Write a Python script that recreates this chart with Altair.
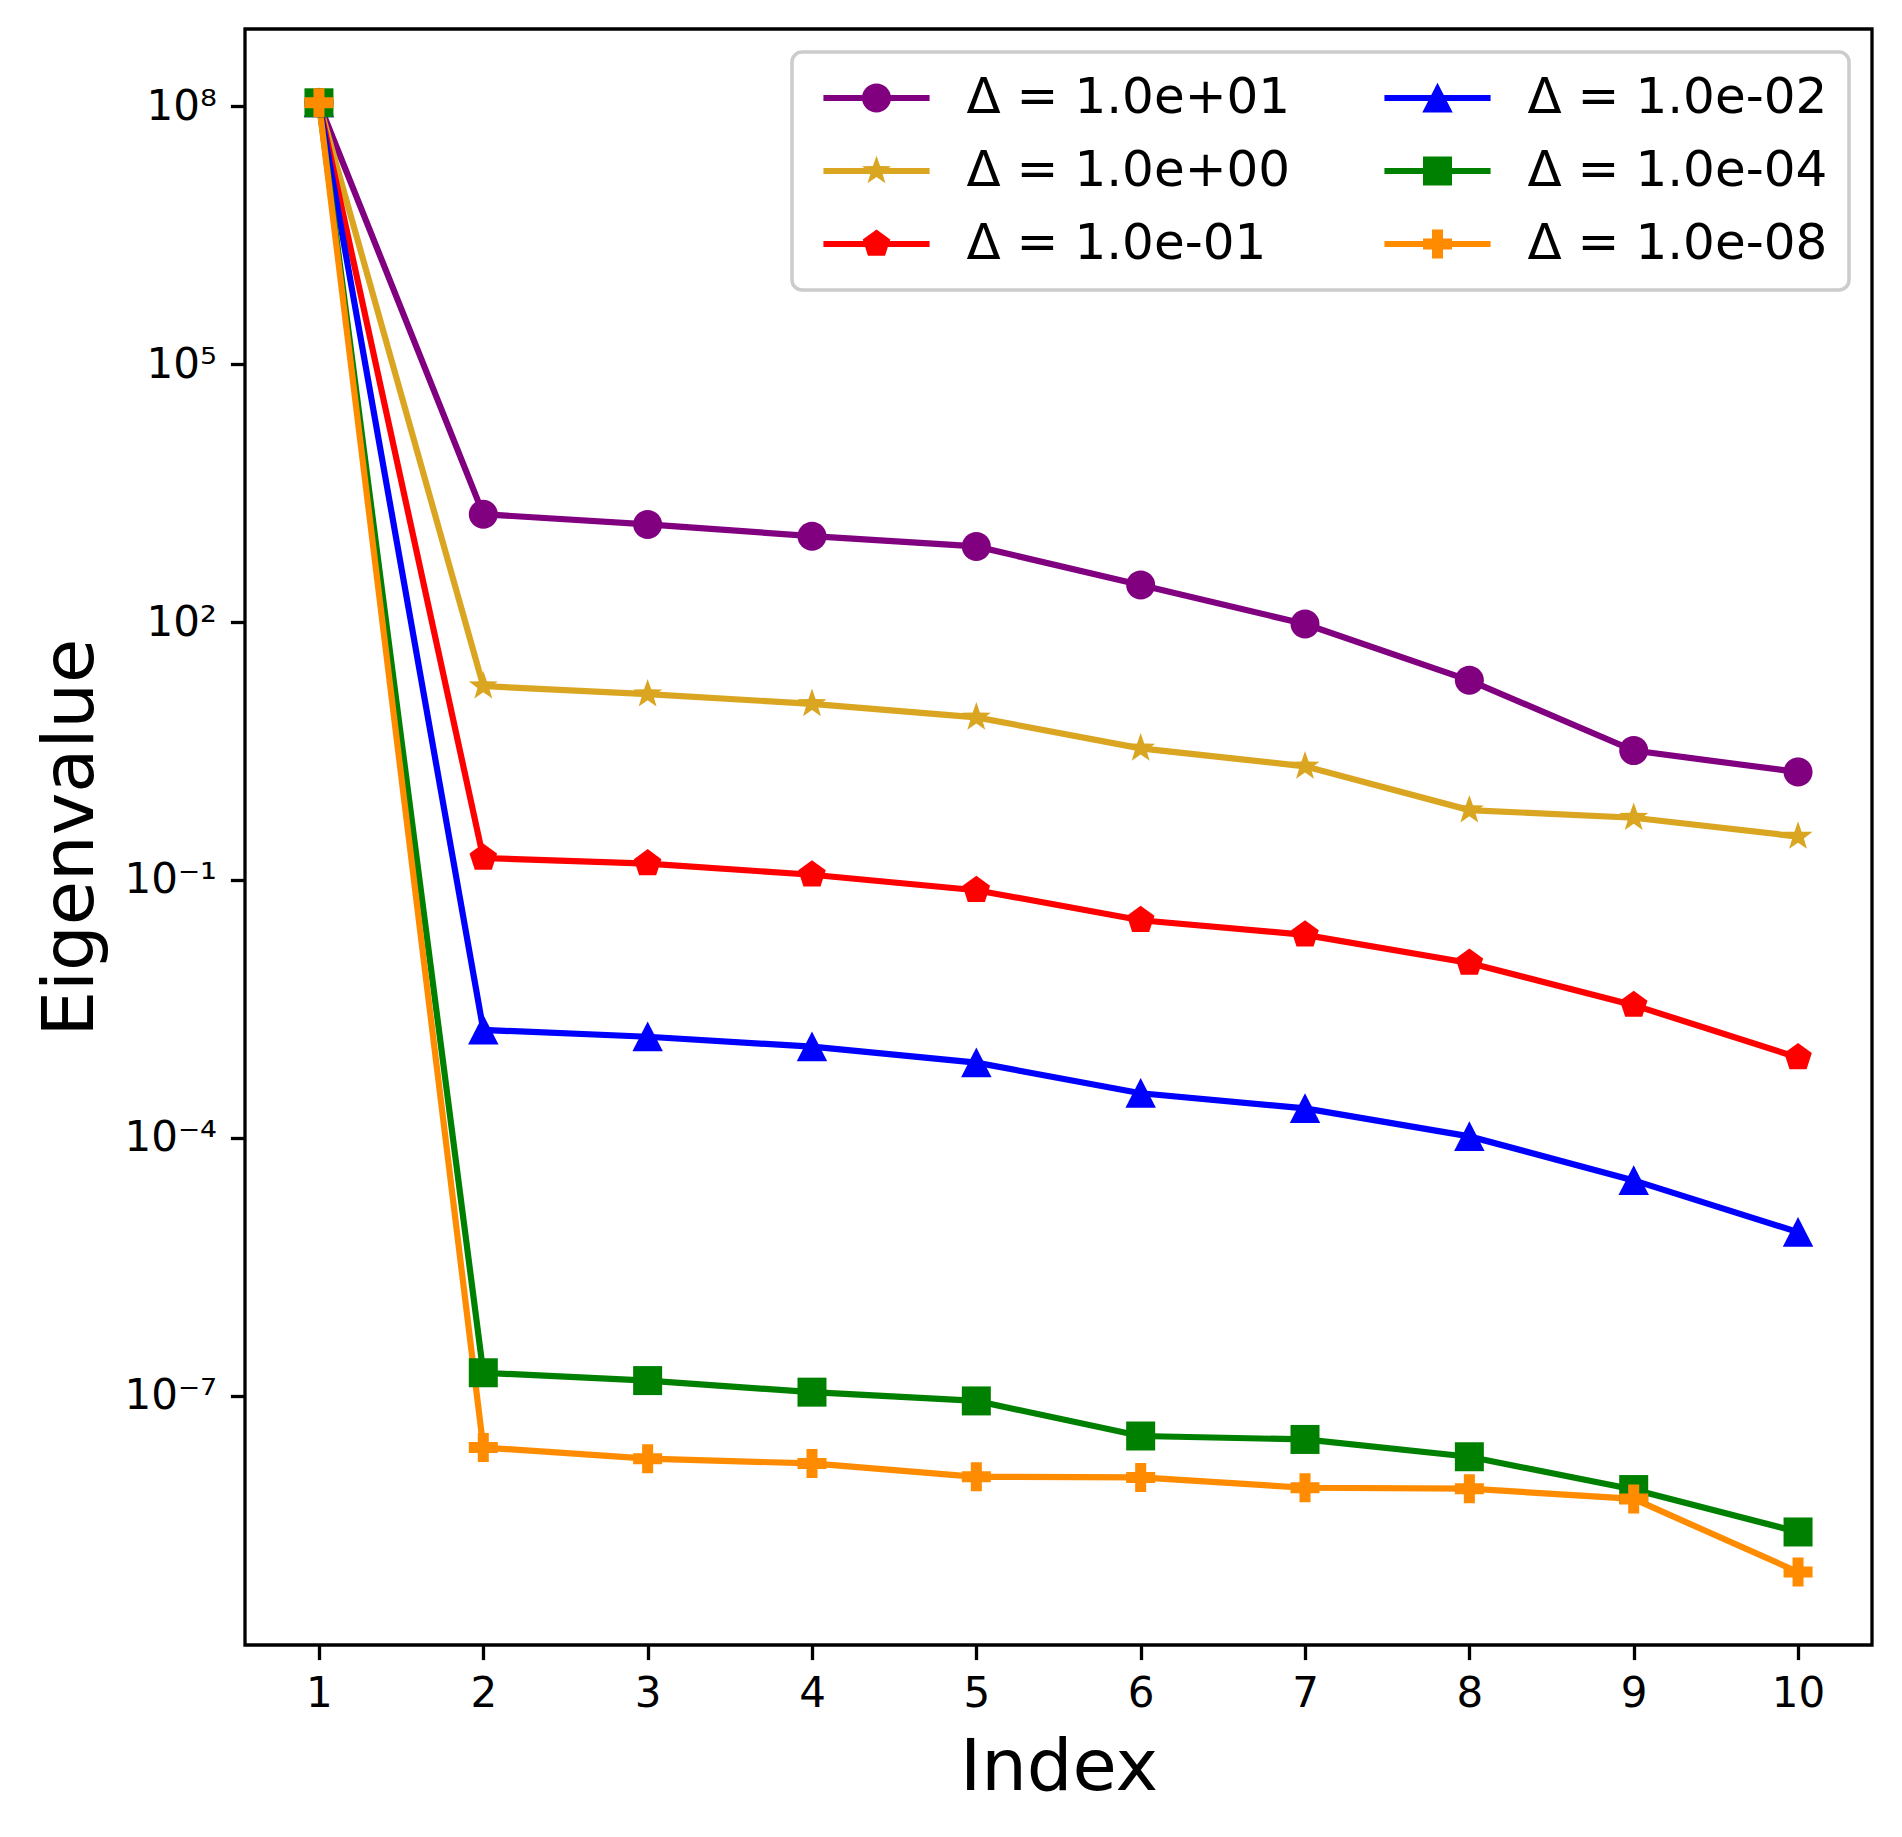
import math
import altair as alt
import pandas as pd

# ---------------- data ----------------
index = [1, 2, 3, 4, 5, 6, 7, 8, 9, 10]
labels = ["Δ = 1.0e+01", "Δ = 1.0e+00", "Δ = 1.0e-01",
          "Δ = 1.0e-02", "Δ = 1.0e-04", "Δ = 1.0e-08"]
colors = ["#800080", "#DAA520", "#FF0000", "#0000FF", "#008000", "#FF8C00"]

vals_1e1 = [1.1e8, 1.8e3, 1.37e3, 1.0e3, 7.6e2, 2.7e2, 95, 21, 3.2, 1.8]
vals_1e0 = [1.1e8, 18, 14.5, 11.2, 7.8, 3.4, 2.1, 0.65, 0.53, 0.32]
vals_1em1 = [1.1e8, 0.18, 0.155, 0.115, 0.076, 0.034, 0.023, 0.0108, 0.0035, 8.6e-4]
vals_1em2 = [1.1e8, 1.8e-3, 1.5e-3, 1.15e-3, 7.5e-4, 3.3e-4, 2.2e-4, 1.04e-4, 3.2e-5, 8.0e-6]
vals_1em4 = [1.1e8, 1.85e-7, 1.5e-7, 1.1e-7, 8.7e-8, 3.4e-8, 3.1e-8, 1.95e-8, 8.1e-9, 2.6e-9]
vals_1em8 = [1.1e8, 2.5e-8, 1.85e-8, 1.63e-8, 1.14e-8, 1.12e-8, 8.5e-9, 8.3e-9, 6.3e-9, 8.9e-10]
series_values = [vals_1e1, vals_1e0, vals_1em1, vals_1em2, vals_1em4, vals_1em8]

y_ticks = [1e-7, 1e-4, 1e-1, 1e2, 1e5, 1e8]
y_tick_labels = ["10⁻⁷", "10⁻⁴", "10⁻¹", "10²", "10⁵", "10⁸"]

# ---------------- table ----------------
rows = []
for lab, vals in zip(labels, series_values):
    for i, v in zip(index, vals):
        rows.append({"idx": i, "val": v, "series": lab})
df = pd.DataFrame(rows)

legend_order = labels  # vega fills the 2-column legend column by column
cmap = dict(zip(labels, colors))
legend_colors = [cmap[l] for l in legend_order]


# ---------------- marker shapes (unit square -1..1) ----------------
def fmt(p):
    return f"{p[0]:.3f},{p[1]:.3f}"


def poly(pts):
    return "M" + "L".join(fmt(p) for p in pts) + "Z"


def regular(n, r_out, r_in=None):
    pts = []
    if r_in is None:
        for k in range(n):
            t = math.radians(360 * k / n)
            pts.append((r_out * math.sin(t), -r_out * math.cos(t)))
    else:
        for k in range(2 * n):
            t = math.radians(180 * k / n)
            r = r_out if k % 2 == 0 else r_in
            pts.append((r * math.sin(t), -r * math.cos(t)))
    return poly(pts)


circle_p = "M1,0A1,1,0,1,1,-1,0A1,1,0,1,1,1,0Z"
star_p = regular(5, 1.05, 0.42)
pent_p = regular(5, 1.0)
tri_p = poly([(0, -1.05), (1.05, 1.0), (-1.05, 1.0)])
square_p = poly([(-1, -1), (1, -1), (1, 1), (-1, 1)])
w = 0.38
plus_p = poly([(-w, -1), (w, -1), (w, -w), (1, -w), (1, w), (w, w), (w, 1), (-w, 1),
               (-w, w), (-1, w), (-1, -w), (-w, -w)])
marker_map = dict(zip(labels, [circle_p, star_p, pent_p, tri_p, square_p, plus_p]))

half_len = 3.66
half_th = 0.214
line_p = poly([(-half_len, -half_th), (half_len, -half_th), (half_len, half_th), (-half_len, half_th)])
legend_paths = [line_p + " " + marker_map[l] for l in legend_order]
marker_paths = [marker_map[l] for l in legend_order]

MS = 841
FONT = "DejaVu Sans"

x_enc = alt.X("idx:Q",
              scale=alt.Scale(domain=[0.55, 10.45], nice=False, zero=False),
              axis=alt.Axis(values=index, title="Index", format="d", titlePadding=18))

label_expr = " : ".join(
    f"abs(datum.value / {t} - 1) < 0.01 ? '{s}'" for t, s in zip(y_ticks, y_tick_labels)
) + " : ''"
y_enc = alt.Y("val:Q",
              scale=alt.Scale(type="log", domain=[10 ** -9.9, 10 ** 8.9], nice=False),
              axis=alt.Axis(values=y_ticks, labelExpr=label_expr, title="Eigenvalue",
                            titlePadding=16))

base = alt.Chart(df)

lines = base.mark_line(strokeWidth=6.2).encode(
    x=x_enc, y=y_enc,
    color=alt.Color("series:N", scale=alt.Scale(domain=legend_order, range=legend_colors),
                    legend=None),
)

points = base.mark_point(filled=True, opacity=1, size=MS, strokeWidth=0).encode(
    x=x_enc, y=y_enc,
    color=alt.Color("series:N", scale=alt.Scale(domain=legend_order, range=legend_colors),
                    legend=None),
    shape=alt.Shape("series:N", scale=alt.Scale(domain=legend_order, range=marker_paths),
                    legend=None),
)

leg = alt.Legend(
    title=None, orient="top-right", offset=23, columns=2,
    columnPadding=83, rowPadding=23, padding=21,
    symbolSize=MS, symbolOffset=38.5, labelOffset=65,
    symbolStrokeWidth=0, symbolOpacity=1,
    labelFont=FONT, labelFontSize=50, labelColor="black", labelLimit=600,
    strokeColor="#cccccc", fillColor="white", cornerRadius=10,
)

legend_layer = base.mark_point(filled=True, opacity=1, size=MS, strokeWidth=0).encode(
    x=x_enc, y=y_enc,
    color=alt.Color("series:N", scale=alt.Scale(domain=legend_order, range=legend_colors),
                    legend=leg),
    shape=alt.Shape("series:N", scale=alt.Scale(domain=legend_order, range=legend_paths),
                    legend=leg),
).transform_filter("datum.idx < 0")

chart = alt.layer(lines, points, legend_layer).resolve_scale(
    color="independent", shape="independent"
).properties(
    width=1627, height=1616,
    autosize=alt.AutoSizeParams(type="none"),
    padding={"left": 237, "top": 21, "right": 20, "bottom": 180},
).configure_view(
    stroke="black", strokeWidth=3.3
).configure_axis(
    domain=False, grid=False,
    tickColor="black", tickWidth=3.3, tickSize=14.6,
    labelFont=FONT, labelFontSize=42, labelColor="black", labelPadding=14,
    titleFont=FONT, titleFontSize=72, titleFontWeight="normal", titleColor="black",
).configure_legend(
    strokeWidth=3.5,
)

chart.save("out.html", embed_options={"renderer": "svg", "actions": False})
